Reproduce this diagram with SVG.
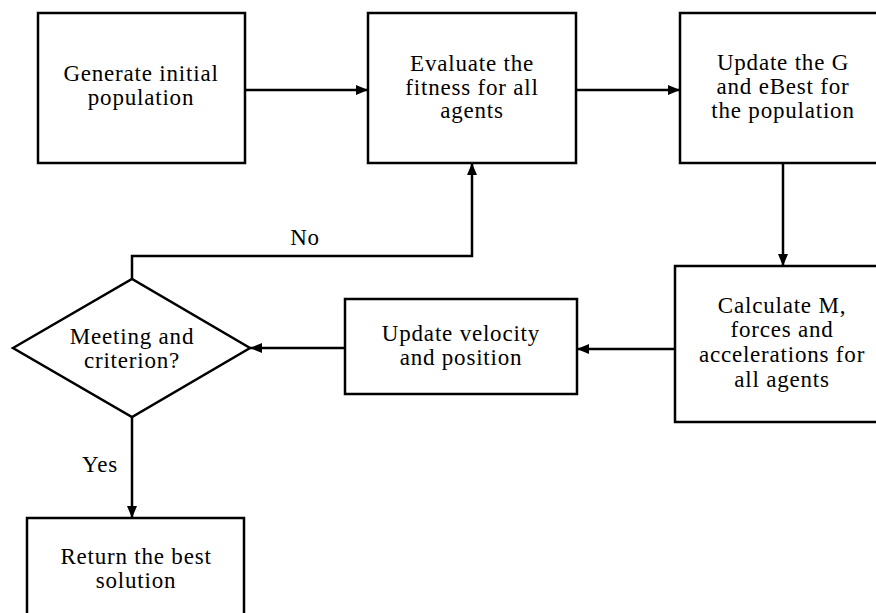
<svg xmlns="http://www.w3.org/2000/svg" width="876" height="613" viewBox="0 0 876 613">
<style>
.box{fill:#fff;stroke:#000;stroke-width:2.5}
.t{font-family:"Liberation Serif","Times New Roman",serif;font-size:23px;letter-spacing:0.8px;fill:#000;text-anchor:middle}
.c{fill:none;stroke:#000;stroke-width:2.5}
</style>
<defs>
<marker id="ah" markerUnits="userSpaceOnUse" markerWidth="12" markerHeight="10" refX="12" refY="5" orient="auto">
<path d="M0,0 L12,5 L0,10 z" fill="#000"/>
</marker>
</defs>
<rect width="876" height="613" fill="#fff"/>
<g id="connectors">
<line class="c" x1="245" y1="90" x2="368" y2="90" marker-end="url(#ah)"/>
<line class="c" x1="576" y1="90" x2="680" y2="90" marker-end="url(#ah)"/>
<line class="c" x1="783" y1="163" x2="783" y2="266" marker-end="url(#ah)"/>
<line class="c" x1="675" y1="349" x2="577" y2="349" marker-end="url(#ah)"/>
<line class="c" x1="345" y1="348" x2="250" y2="348" marker-end="url(#ah)"/>
<polyline class="c" points="132,279 132,256 472,256 472,163" marker-end="url(#ah)"/>
<line class="c" x1="132" y1="417" x2="132" y2="518" stroke-width="3" marker-end="url(#ah)"/>
<text class="t" x="305" y="245">No</text>
<text class="t" x="100" y="472">Yes</text>
</g>
<g id="generate">
<rect class="box" x="38" y="13" width="207" height="150"/>
<text class="t" x="141" y="81">Generate initial</text>
<text class="t" x="141" y="105">population</text>
</g>
<g id="evaluate">
<rect class="box" x="368" y="13" width="208" height="150"/>
<text class="t" x="472" y="71">Evaluate the</text>
<text class="t" x="472" y="95">fitness for all</text>
<text class="t" x="472" y="118">agents</text>
</g>
<g id="update-g">
<rect class="box" x="680" y="13" width="210" height="150"/>
<text class="t" x="783" y="70">Update the G</text>
<text class="t" x="783" y="94">and eBest for</text>
<text class="t" x="783" y="118">the population</text>
</g>
<g id="calculate">
<rect class="box" x="675" y="266" width="215" height="156"/>
<text class="t" x="782" y="313">Calculate M,</text>
<text class="t" x="782" y="337">forces and</text>
<text class="t" x="782" y="362">accelerations for</text>
<text class="t" x="782" y="387">all agents</text>
</g>
<g id="update-velocity">
<rect class="box" x="345" y="299" width="232" height="95"/>
<text class="t" x="461" y="341">Update velocity</text>
<text class="t" x="461" y="365">and position</text>
</g>
<g id="decision">
<polygon class="box" points="13,348 132,279 250,348 132,417"/>
<text class="t" x="132" y="344">Meeting and</text>
<text class="t" x="132" y="368">criterion?</text>
</g>
<g id="return">
<rect class="box" x="27" y="518" width="217" height="110"/>
<text class="t" x="136" y="564">Return the best</text>
<text class="t" x="136" y="588">solution</text>
</g>
</svg>
